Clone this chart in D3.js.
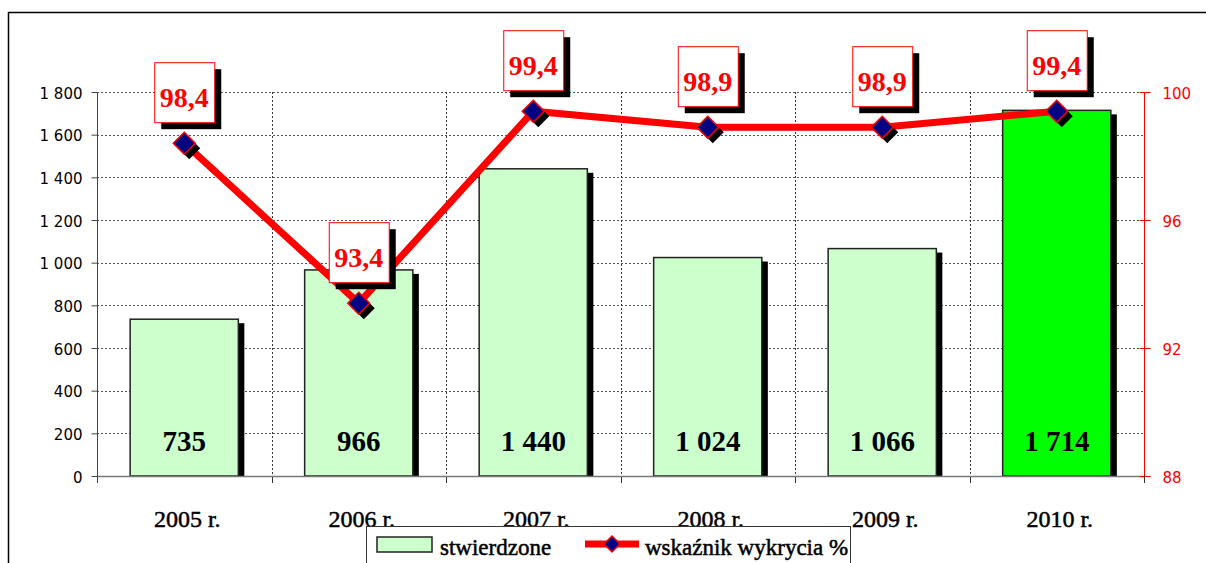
<!DOCTYPE html>
<html>
<head>
<meta charset="utf-8">
<script src="https://cdn.jsdelivr.net/npm/d3@7"></script>
<style>
  html, body { margin: 0; padding: 0; background: #fff; }
  svg { display: block; }
</style>
</head>
<body>
<svg id="chart" width="1206" height="563"></svg>
<script>
// ---- data ----
const years = ["2005 r.", "2006 r.", "2007 r.", "2008 r.", "2009 r.", "2010 r."];
const stwierdzone = [735, 966, 1440, 1024, 1066, 1714];
const wskaznik = [98.4, 93.4, 99.4, 98.9, 98.9, 99.4];
const leftTicks = [0, 200, 400, 600, 800, 1000, 1200, 1400, 1600, 1800];
const rightTicks = [88, 92, 96, 100];
const seriesNames = ["stwierdzone", "wskaźnik wykrycia %"];

// ---- setup ----
const svg = d3.select("#chart");
const loc = d3.formatLocale({ decimal: ",", thousands: " ", grouping: [3], currency: ["", ""] });
const fmtInt = loc.format(",d");
const fmtPct = loc.format(".1f");

const plotL = 97, plotR = 1144, plotT = 92, plotB = 476;
const x = d3.scaleBand().domain(years).range([plotL, plotR]).paddingInner(0.38).paddingOuter(0.19);
const yL = d3.scaleLinear().domain([0, 1800]).range([plotB, plotT]);
const yR = d3.scaleLinear().domain([88, 100]).range([plotB, plotT]);
const step = x.step();
const bw = x.bandwidth();
const cx = d => x(d) + bw / 2;

const serif = "'Liberation Serif', 'Times New Roman', serif";
const sans = "'DejaVu Sans', Verdana, sans-serif";

// outer frame
svg.append("path").attr("d", "M8.5,563 L8.5,12.5 L1206,12.5")
  .attr("fill", "none").attr("stroke", "#000").attr("stroke-width", 1.5);

// horizontal gridlines
svg.append("g").selectAll("line").data(leftTicks.slice(1)).join("line")
  .attr("x1", plotL).attr("x2", plotR)
  .attr("y1", d => Math.round(yL(d)) + 0.5).attr("y2", d => Math.round(yL(d)) + 0.5)
  .attr("stroke", "#555").attr("stroke-dasharray", "2,2");

// vertical gridlines at category boundaries
const bounds = years.slice(1).map(d => x(d) - step * 0.19);
svg.append("g").selectAll("line").data(bounds).join("line")
  .attr("x1", d => Math.round(d) + 0.5).attr("x2", d => Math.round(d) + 0.5)
  .attr("y1", plotT).attr("y2", plotB)
  .attr("stroke", "#333").attr("stroke-dasharray", "2,2");
svg.append("g").selectAll("line").data(bounds).join("line")
  .attr("x1", d => Math.round(d) + 0.5).attr("x2", d => Math.round(d) + 0.5)
  .attr("y1", plotB).attr("y2", plotB + 7)
  .attr("stroke", "#333");

// bars: shadows then bars
const barG = svg.append("g");
barG.selectAll("rect.sh").data(years).join("rect").attr("class", "sh")
  .attr("x", d => x(d) + 6).attr("y", (d, i) => yL(stwierdzone[i]) + 4)
  .attr("width", bw).attr("height", (d, i) => plotB - yL(stwierdzone[i]) - 4)
  .attr("fill", "#000");
barG.selectAll("rect.bar").data(years).join("rect").attr("class", "bar")
  .attr("x", d => x(d)).attr("y", (d, i) => yL(stwierdzone[i]))
  .attr("width", bw).attr("height", (d, i) => plotB - yL(stwierdzone[i]))
  .attr("fill", (d, i) => i === years.length - 1 ? "#00ff00" : "#ccffcc")
  .attr("stroke", "#222").attr("stroke-width", 1.5);

// x axis line
svg.append("line").attr("x1", plotL).attr("x2", plotR).attr("y1", plotB + 0.5).attr("y2", plotB + 0.5)
  .attr("stroke", "#777").attr("stroke-width", 1.5);

// bar labels
barG.selectAll("text").data(years).join("text")
  .attr("x", d => cx(d)).attr("y", 451)
  .attr("text-anchor", "middle")
  .attr("font-family", serif).attr("font-weight", "bold").attr("font-size", 29)
  .attr("fill", "#000")
  .text((d, i) => fmtInt(stwierdzone[i]));

// line
const line = d3.line().x(d => cx(d)).y((d, i) => yR(wskaznik[i]));
svg.append("path").datum(years).attr("d", line)
  .attr("fill", "none").attr("stroke", "#ff0000").attr("stroke-width", 7)
  .attr("stroke-linejoin", "miter");

// markers
const diamond = s => `M0,${-s} L${s},0 L0,${s} L${-s},0 Z`;
const mk = svg.append("g");
mk.selectAll("path.sh").data(years).join("path").attr("class", "sh")
  .attr("transform", (d, i) => `translate(${cx(d) + 5},${yR(wskaznik[i]) + 5})`)
  .attr("d", diamond(11)).attr("fill", "#000");
mk.selectAll("path.m").data(years).join("path").attr("class", "m")
  .attr("transform", (d, i) => `translate(${cx(d)},${yR(wskaznik[i])})`)
  .attr("d", diamond(11)).attr("fill", "#000080").attr("stroke", "#ff0000").attr("stroke-width", 1.5);

// value label boxes
const lb = svg.append("g");
const boxW = 60, boxH = 60;
lb.selectAll("rect.sh").data(years).join("rect").attr("class", "sh")
  .attr("x", d => cx(d) - boxW / 2 + 7).attr("y", (d, i) => yR(wskaznik[i]) - 21 - boxH + 7)
  .attr("width", boxW).attr("height", boxH).attr("fill", "#000");
lb.selectAll("rect.b").data(years).join("rect").attr("class", "b")
  .attr("x", d => cx(d) - boxW / 2 + 0.5).attr("y", (d, i) => yR(wskaznik[i]) - 21 - boxH + 0.5)
  .attr("width", boxW).attr("height", boxH).attr("fill", "#fff")
  .attr("stroke", "#ff0000").attr("stroke-width", 1);
lb.selectAll("text").data(years).join("text")
  .attr("x", d => cx(d)).attr("y", (d, i) => yR(wskaznik[i]) - 21 - boxH + 45)
  .attr("text-anchor", "middle")
  .attr("font-family", serif).attr("font-weight", "bold").attr("font-size", 28)
  .attr("fill", "#ff0000")
  .text((d, i) => fmtPct(wskaznik[i]));

// left axis
const axL = svg.append("g").attr("transform", `translate(${plotL + 0.5},0)`)
  .call(d3.axisLeft(yL).tickValues(leftTicks).tickSize(6).tickSizeOuter(0).tickFormat(fmtInt));
axL.select(".domain").remove();
axL.selectAll(".tick line").attr("stroke", "#444");
axL.selectAll(".tick text").attr("font-family", sans).attr("font-size", 15)
  .attr("fill", "#000").attr("x", -15).attr("dy", "0.4em");
svg.append("line").attr("x1", plotL + 0.5).attr("x2", plotL + 0.5).attr("y1", plotT).attr("y2", plotB + 7)
  .attr("stroke", "#444").attr("stroke-width", 1);

// right axis
const axR = svg.append("g").attr("transform", `translate(${plotR + 0.5},0)`)
  .call(d3.axisRight(yR).tickValues(rightTicks).tickSize(6).tickSizeOuter(0).tickFormat(d3.format("d")));
axR.select(".domain").remove();
axR.selectAll(".tick line").attr("stroke", "#ff0000").attr("x1", -5).attr("x2", 6);
axR.selectAll(".tick text").attr("font-family", sans).attr("font-size", 15)
  .attr("fill", "#ff0000").attr("x", 18).attr("dy", "0.45em");
svg.append("line").attr("x1", plotR + 0.5).attr("x2", plotR + 0.5).attr("y1", plotT).attr("y2", plotB)
  .attr("stroke", "#ff0000").attr("stroke-width", 1);
svg.append("line").attr("x1", plotR + 0.5).attr("x2", plotR + 0.5).attr("y1", plotB).attr("y2", plotB + 7)
  .attr("stroke", "#333").attr("stroke-width", 1);

// x axis labels
const axX = svg.append("g").attr("transform", `translate(0,${plotB})`)
  .call(d3.axisBottom(x).tickSize(0));
axX.select(".domain").remove();
axX.selectAll(".tick text").attr("font-family", serif).attr("font-size", 24)
  .attr("fill", "#000").attr("stroke", "#000").attr("stroke-width", 0.5)
  .attr("y", 51).attr("dy", 0).attr("dx", 3);

// legend
const lg = svg.append("g");
lg.append("rect").attr("x", 366.5).attr("y", 526.5).attr("width", 484).attr("height", 60)
  .attr("fill", "#fff").attr("stroke", "#333").attr("stroke-width", 1);
lg.append("rect").attr("x", 377).attr("y", 537).attr("width", 55).attr("height", 15)
  .attr("fill", "#ccffcc").attr("stroke", "#222").attr("stroke-width", 1.5);
lg.append("text").attr("x", 440).attr("y", 555).attr("font-family", serif).attr("font-size", 23)
  .attr("fill", "#000").attr("stroke", "#000").attr("stroke-width", 0.5).text(seriesNames[0]);
lg.append("line").attr("x1", 585).attr("x2", 639).attr("y1", 544).attr("y2", 544)
  .attr("stroke", "#ff0000").attr("stroke-width", 7);
lg.append("path").attr("transform", "translate(612,544)").attr("d", diamond(8))
  .attr("fill", "#000080").attr("stroke", "#ff0000").attr("stroke-width", 1.5);
lg.append("text").attr("x", 645).attr("y", 555).attr("font-family", serif).attr("font-size", 23)
  .attr("fill", "#000").attr("stroke", "#000").attr("stroke-width", 0.5).text(seriesNames[1]);
</script>
</body>
</html>
